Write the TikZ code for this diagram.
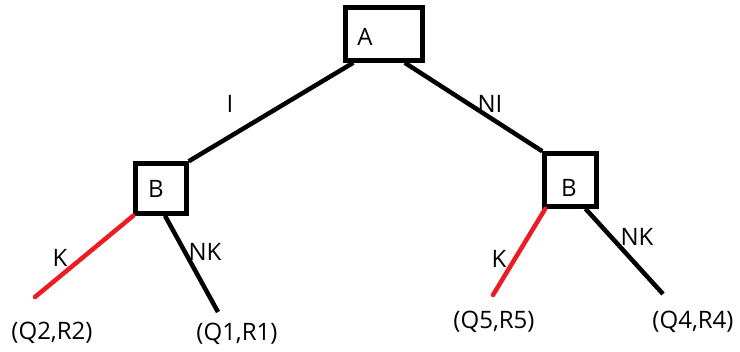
\documentclass[tikz,border=0pt]{standalone}
\usepackage{fontspec}
\setmainfont{Open Sans}
\definecolor{redline}{HTML}{ED1C24}
\begin{document}
\begin{tikzpicture}[x=1pt,y=-1pt,
  every node/.style={font=\fontsize{24}{28}\selectfont, inner sep=0pt},
  box/.style={draw=black, line width=4.5pt, rectangle},
  edge/.style={line width=4.5pt, black},
  redge/.style={line width=4.5pt, redline, line cap=round},
  lbl/.style={anchor=center}]
\useasboundingbox (0,0) rectangle (740,352);
\fill[white] (0,0) rectangle (740,352);
% boxes
\node[box, minimum width=77pt, minimum height=53pt] (A) at (384,34) {};
\node[lbl] (At) at (365,37) {A};
\node[box, minimum width=51pt, minimum height=50pt] (B1) at (161,188.5) {};
\node[lbl] (B1t) at (156,189) {B};
\node[box, minimum width=52pt, minimum height=53pt] (B2) at (570.5,180) {};
\node[lbl] (B2t) at (569,188) {B};
% free ends
\coordinate (e1) at (35,297);
\coordinate (e2) at (218,312);
\coordinate (e3) at (493,295);
\coordinate (e4) at (663,294);
% connectors
\draw[edge] ([xshift=10pt]A.south west) -- (B1.north east);
\draw[edge] ([xshift=-20pt]A.south east) -- (B2.north west);
\draw[redge] (B1.south west) -- (e1);
\draw[edge] ([xshift=4pt]B1.south) -- (e2);
\draw[redge] ([xshift=3pt]B2.south west) -- (e3);
\draw[edge] ([xshift=15pt]B2.south) -- (e4);
% edge labels
\node[lbl] (lI) at (230,104) {I};
\node[lbl] (lNI) at (490,104) {NI};
\node[lbl] (lK1) at (60,258) {K};
\node[lbl] (lNK1) at (205,252) {NK};
\node[lbl] (lK2) at (499,259) {K};
\node[lbl] (lNK2) at (637,237) {NK};
% leaves
\node[lbl] (q2) at (52,333) {(Q2,R2)};
\node[lbl] (q1) at (237,334) {(Q1,R1)};
\node[lbl] (q5) at (494,322) {(Q5,R5)};
\node[lbl] (q4) at (693,322) {(Q4,R4)};
\end{tikzpicture}
\end{document}
